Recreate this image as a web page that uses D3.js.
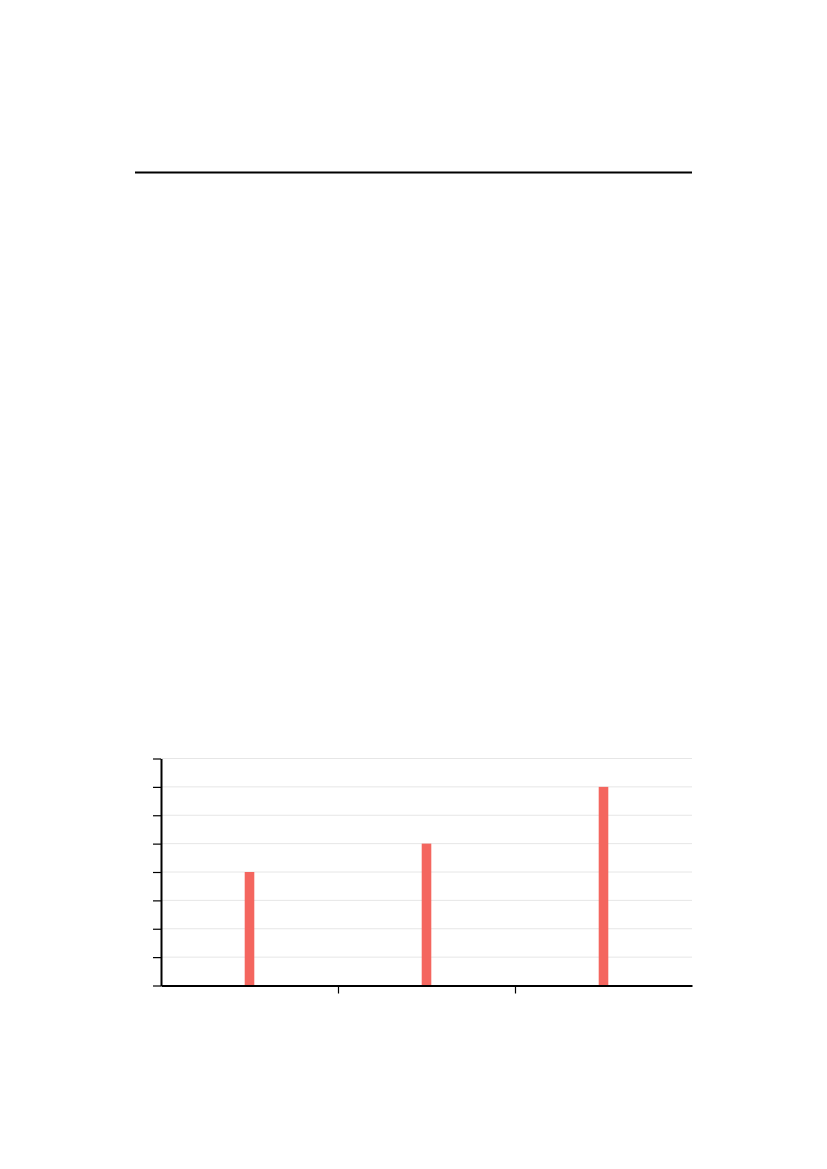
<!DOCTYPE html>
<html>
<head>
<meta charset="utf-8">
<script src="https://cdn.jsdelivr.net/npm/d3@7"></script>
<style>
  body { margin: 0; background: white; }
  svg { display: block; }
</style>
</head>
<body>
<svg></svg>
<script>
  // Chart data.
  const categories = ["A", "B", "C"];
  const values = [4, 5, 7];
  const yTicks = [0, 1, 2, 3, 4, 5, 6, 7, 8];

  const width = 827;
  const height = 1169;

  const svg = d3.select("svg")
      .attr("width", width)
      .attr("height", height);

  // Top rule line.
  svg.append("line")
      .attr("x1", 135).attr("x2", 692)
      .attr("y1", 172.5).attr("y2", 172.5)
      .attr("stroke", "black")
      .attr("stroke-width", 2.2);

  // Bottom chart area.
  const margin = {left: 161, right: 692, top: 758.5, bottom: 985.5};

  const x = d3.scaleBand()
      .domain(categories)
      .range([margin.left, margin.right]);

  const y = d3.scaleLinear()
      .domain([0, 8])
      .range([margin.bottom, margin.top]);

  // Gridlines.
  svg.append("g")
    .selectAll("line")
    .data(yTicks)
    .join("line")
      .attr("x1", margin.left)
      .attr("x2", margin.right)
      .attr("y1", d => y(d))
      .attr("y2", d => y(d))
      .attr("stroke", "#e6e6e6")
      .attr("stroke-width", 1);

  // Bars.
  const barW = 9.6;
  svg.append("g")
    .selectAll("rect")
    .data(values)
    .join("rect")
      .attr("x", (d, i) => x(categories[i]) + x.bandwidth() / 2 - barW / 2)
      .attr("y", d => y(d))
      .attr("width", barW)
      .attr("height", d => y(0) - y(d))
      .attr("fill", "#f4665f");

  // Y axis.
  const yAxis = svg.append("g")
      .attr("transform", `translate(${margin.left},0)`)
      .call(d3.axisLeft(y).tickValues(yTicks).tickSize(8).tickFormat("").tickSizeOuter(0));
  yAxis.select(".domain").attr("stroke-width", 2);
  yAxis.selectAll(".tick line").attr("stroke-width", 1.2);

  // X axis, ticks at inner band boundaries.
  const bounds = categories.slice(1).map(c => x(c));
  const xAxis = svg.append("g")
      .attr("transform", `translate(0,${margin.bottom})`)
      .call(d3.axisBottom(d3.scaleLinear().domain([margin.left, margin.right]).range([margin.left, margin.right]))
        .tickValues(bounds).tickSize(8).tickFormat("").tickSizeOuter(0));
  xAxis.select(".domain").attr("stroke-width", 2);
  xAxis.selectAll(".tick line").attr("stroke-width", 1.2);
</script>
</body>
</html>
